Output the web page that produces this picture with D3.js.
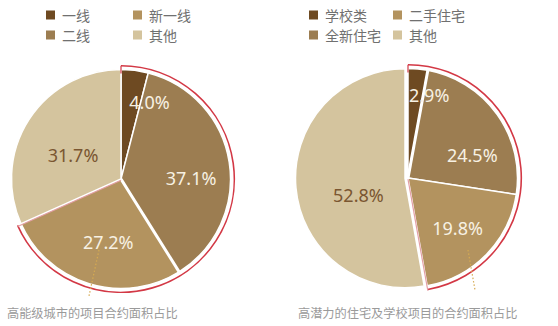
<!DOCTYPE html>
<html>
<head>
<meta charset="utf-8">
<script src="https://cdn.jsdelivr.net/npm/d3@7"></script>
<style>
  html, body { margin: 0; padding: 0; background: #fff; }
  svg { display: block; font-family: "Noto Sans", "Noto Sans CJK SC", sans-serif; }
</style>
</head>
<body>
<svg id="chart" width="558" height="326"></svg>
<script>
// Contract-area shares by city tier
const leftCategories = ["一线", "二线", "新一线", "其他"];
const leftValues = [4.0, 37.1, 27.2, 31.7];
const leftTitle = "高能级城市的项目合约面积占比";

// Contract-area shares of high-potential residential and school projects
const rightCategories = ["学校类", "全新住宅", "二手住宅", "其他"];
const rightValues = [2.9, 24.5, 19.8, 52.8];
const rightTitle = "高潜力的住宅及学校项目的合约面积占比";

const sliceColors = ["#6e4a22", "#9c7d51", "#b3935f", "#d4c49e"];
const labelColors = ["#f7f1e3", "#f7f1e3", "#f7f1e3", "#7a5631"];

const svg = d3.select("#chart");

const pies = [
  {
    cats: leftCategories, values: leftValues, title: leftTitle,
    cx: 121, cy: 179, r: 109.5,
    explode: [0, 0, 0, 0],
    thickEdges: [2],
    nudges: [[20, -10], [3, 9], [7, -2], [9, 13]],
    legendX: [46, 133],
    titleX: 7,
    leader: [[-22, 71], [-32, 117]]
  },
  {
    cats: rightCategories, values: rightValues, title: rightTitle,
    cx: 408, cy: 178, r: 109.5,
    explode: [0, 0, 0, 3],
    thickEdges: [1],
    nudges: [[15, -15], [9, 16], [1, 3], [21, 11]],
    legendX: [309, 393],
    titleX: 298,
    leader: [[60, 72], [67, 112]]
  }
];

pies.forEach(p => {
  const arcs = d3.pie().sort(null).value(d => d)(p.values);
  const arc = d3.arc().innerRadius(0).outerRadius(p.r);
  const g = svg.append("g").attr("transform", `translate(${p.cx},${p.cy})`);

  const shift = (d, i) => {
    const a = (d.startAngle + d.endAngle) / 2;
    return [Math.sin(a) * p.explode[i], -Math.cos(a) * p.explode[i]];
  };

  // slices
  g.selectAll("path.slice")
    .data(arcs)
    .join("path")
    .attr("class", "slice")
    .attr("d", arc)
    .attr("transform", (d, i) => `translate(${shift(d, i)})`)
    .attr("fill", (d, i) => sliceColors[i])
    .attr("stroke", "#fff")
    .attr("stroke-width", 1.5)
    .attr("stroke-linejoin", "round");

  // wider white gaps on selected slice boundaries
  p.thickEdges.forEach(k => {
    const a = arcs[k].startAngle;
    g.append("line")
      .attr("x1", 0).attr("y1", 0)
      .attr("x2", Math.sin(a) * (p.r + 1))
      .attr("y2", -Math.cos(a) * (p.r + 1))
      .attr("stroke", "#fff")
      .attr("stroke-width", 3);
  });

  // red outline around the first three slices
  const hiEnd = arcs[2].endAngle;
  const ro = p.r + 3.8;
  const pth = d3.path();
  pth.moveTo(0, -ro);
  pth.arc(0, 0, ro, -Math.PI / 2, hiEnd - Math.PI / 2);
  g.append("path")
    .attr("d", pth.toString())
    .attr("fill", "none")
    .attr("stroke", "#d33845")
    .attr("stroke-width", 1.6);
  // radial edges of the outline
  [0, hiEnd].forEach((a, j) => {
    g.append("line")
      .attr("x1", Math.sin(a) * (j ? 0 : p.r - 4))
      .attr("y1", -Math.cos(a) * (j ? 0 : p.r - 4))
      .attr("x2", Math.sin(a) * ro)
      .attr("y2", -Math.cos(a) * ro)
      .attr("stroke", j ? "#e3a0a6" : "#d33845")
      .attr("stroke-width", 1.2)
      .attr("transform", j ? "translate(0,1.2)" : null);
  });

  // dotted leader line below the label
  g.append("line")
    .attr("x1", p.leader[0][0]).attr("y1", p.leader[0][1])
    .attr("x2", p.leader[1][0]).attr("y2", p.leader[1][1])
    .attr("stroke", "#d6aa52")
    .attr("stroke-width", 1.2)
    .attr("stroke-dasharray", "1.5,2");

  // value labels
  const labelArc = d3.arc().innerRadius(p.r * 0.62).outerRadius(p.r * 0.62);
  g.selectAll("text.val")
    .data(arcs)
    .join("text")
    .attr("class", "val")
    .attr("x", (d, i) => labelArc.centroid(d)[0] + shift(d, i)[0] + p.nudges[i][0])
    .attr("y", (d, i) => labelArc.centroid(d)[1] + shift(d, i)[1] + p.nudges[i][1])
    .attr("text-anchor", "middle")
    .attr("dominant-baseline", "central")
    .attr("font-size", 18)
    .attr("fill", (d, i) => labelColors[i])
    .text(d => d.data.toFixed(1) + "%");

  // legend: two columns, two rows, column-major order
  const lg = svg.append("g");
  p.cats.forEach((c, i) => {
    const col = Math.floor(i / 2), row = i % 2;
    const x = p.legendX[col], y = 15 + row * 20;
    lg.append("rect")
      .attr("x", x).attr("y", y - 4.5)
      .attr("width", 9).attr("height", 9)
      .attr("fill", sliceColors[i]);
    lg.append("text")
      .attr("x", x + 16).attr("y", y)
      .attr("dominant-baseline", "central")
      .attr("font-family", "'Noto Sans CJK SC', sans-serif")
      .attr("font-size", 14)
      .attr("fill", "#707070")
      .text(c);
  });

  // caption
  svg.append("text")
    .attr("x", p.titleX).attr("y", 313)
    .attr("dominant-baseline", "central")
    .attr("font-family", "'Noto Sans CJK SC', sans-serif")
    .attr("font-size", 12.2)
    .attr("fill", "#9a9a9a")
    .text(p.title);
});
</script>
</body>
</html>
